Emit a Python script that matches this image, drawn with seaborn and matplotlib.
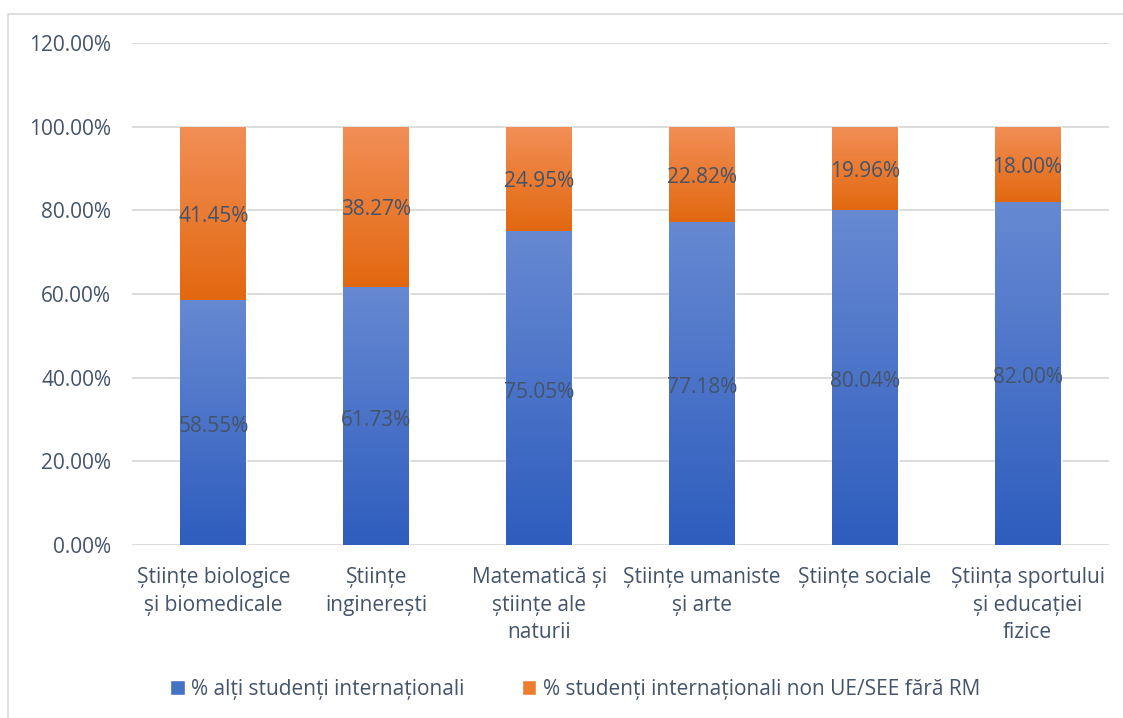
import matplotlib
matplotlib.use("Agg")
import matplotlib.pyplot as plt
import seaborn as sns
import numpy as np
import pandas as pd
from matplotlib.colors import LinearSegmentedColormap
from matplotlib.patches import Rectangle, Patch

categories = ["Științe biologice\nși biomedicale", "Științe\ninginerești",
              "Matematică și\nștiințe ale\nnaturii", "Științe umaniste\nși arte",
              "Științe sociale", "Știința sportului\nși educației\nfizice"]
blue_vals = [58.55, 61.73, 75.05, 77.18, 80.04, 82.00]
orange_vals = [41.45, 38.27, 24.95, 22.82, 19.96, 18.00]
series_names = ["% alți studenți internaționali",
                "% studenți internaționali non UE/SEE fără RM"]
yticks = [0, 20, 40, 60, 80, 100, 120]

sns.set_theme(style="white")
plt.rcParams['font.family'] = ['Open Sans', 'DejaVu Sans']
text_color = "#44546A"
FS = 15

df = pd.DataFrame({"cat": categories, "blue": blue_vals, "orange": orange_vals})
df["total"] = df["blue"] + df["orange"]

fig = plt.figure(figsize=(11.23, 7.18), dpi=100)
ax = fig.add_axes([132/1123, 1-545/718, (1109-132)/1123, (545-43)/718])

sns.barplot(data=df, x="cat", y="total", color="#ED7D31", width=0.405, ax=ax,
            saturation=1, zorder=2)
n_or = len(ax.patches)
sns.barplot(data=df, x="cat", y="blue", color="#4472C4", width=0.405, ax=ax,
            saturation=1, zorder=2)
orange_patches = ax.patches[:n_or]
blue_patches = ax.patches[n_or:]

cm_blue = LinearSegmentedColormap.from_list("b", ["#2E5DBE", "#6789D2"])
cm_or = LinearSegmentedColormap.from_list("o", ["#E2680F", "#F28F57"])
grad = np.linspace(0, 1, 256).reshape(-1, 1)

def fill(p, cmap, y0, y1):
    x0 = p.get_x(); w = p.get_width()
    im = ax.imshow(grad, cmap=cmap, extent=[x0, x0 + w, y0, y1], origin="lower",
                   aspect="auto", zorder=3, interpolation="bilinear")
    im.set_clip_path(p)

for p, b in zip(orange_patches, blue_vals):
    fill(p, cm_or, b, 100)
for p in blue_patches:
    fill(p, cm_blue, 0, p.get_height())

for i, (b, o) in enumerate(zip(blue_vals, orange_vals)):
    ax.annotate(f"{b:.2f}%", (i, b / 2), xytext=(0, -3), textcoords="offset points",
                ha="center", va="center", fontsize=FS, color=text_color, zorder=5)
    ax.annotate(f"{o:.2f}%", (i, b + o / 2), xytext=(0, -2), textcoords="offset points",
                ha="center", va="center", fontsize=FS, color=text_color, zorder=5)

ax.set_ylim(0, 120)
ax.set_xlim(-0.5, len(categories) - 0.5)
ax.set_yticks(yticks)
ax.set_yticklabels([f"{v:.2f}%" for v in yticks])
ax.yaxis.grid(True, color="#D9D9D9", linewidth=1.3, zorder=0)
ax.set_axisbelow(True)
for s in ax.spines.values():
    s.set_visible(False)
ax.tick_params(axis="both", length=0, labelsize=FS, colors=text_color)
ax.tick_params(axis="y", pad=15)
ax.tick_params(axis="x", pad=16)
ax.set_xlabel("")
ax.set_ylabel("")
for lbl in ax.get_xticklabels():
    lbl.set_linespacing(1.4)

fig.patches.append(Rectangle((8/1123, -0.1), 1.2, (718-14)/718 + 0.1,
                             transform=fig.transFigure, fill=False,
                             edgecolor="#D9D9D9", linewidth=1.2))

handles = [Patch(facecolor="#4472C4"), Patch(facecolor="#ED7D31")]
fig.legend(handles, series_names, loc="center", bbox_to_anchor=(0.512, 1-689/718),
           ncol=2, frameon=False, fontsize=FS, labelcolor=text_color,
           handlelength=0.7, handleheight=0.7, handletextpad=0.3,
           columnspacing=2.75)

fig.savefig("out.png", dpi=100)
